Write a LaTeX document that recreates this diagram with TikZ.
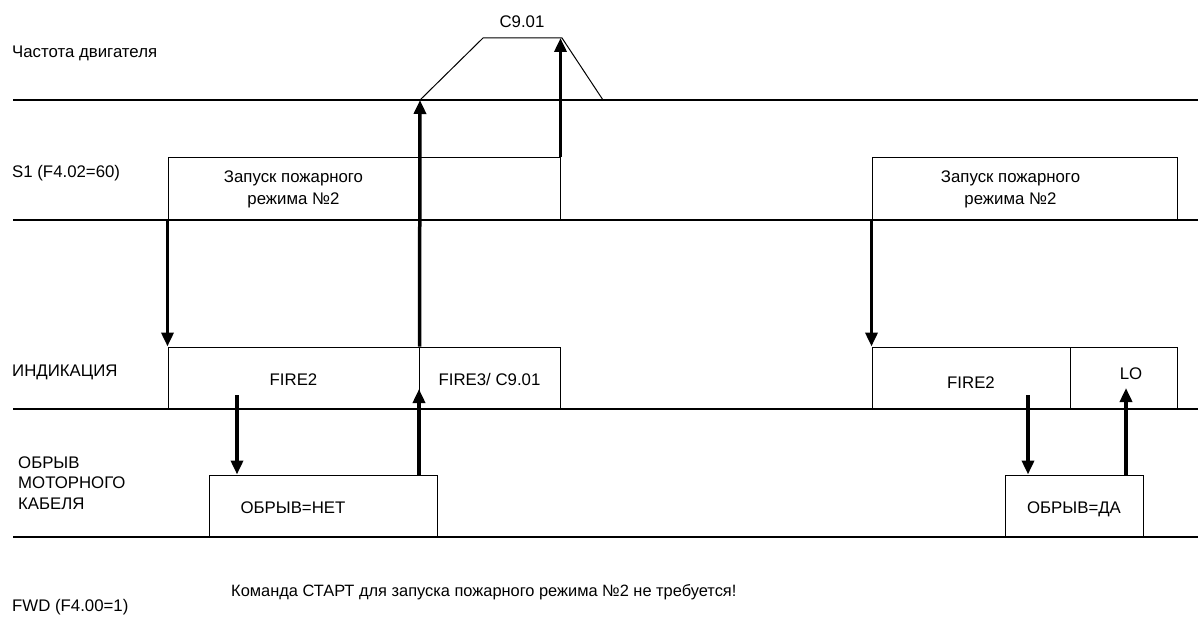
\documentclass[tikz,border=0pt]{standalone}
\usepackage{fontspec}
\setmainfont{Liberation Sans}
\usetikzlibrary{arrows.meta,calc}
\newcommand{\shiftedtext}[2]{\raisebox{#1}[0pt][0pt]{#2}}
\begin{document}
\begin{tikzpicture}[x=1pt,y=-1pt,
  every node/.style={font=\fontsize{16.8}{22}\selectfont},
  axis/.style={line width=1.3pt},
  box/.style={draw,line width=1pt,inner sep=0pt,align=center},
  lbl/.style={anchor=west,inner sep=0pt,align=left},
  arr/.style={line width=3.5pt,-{Triangle[length=14pt,width=12pt]}}]
\useasboundingbox (0,0) rectangle (1198,639);
% time axes
\draw[axis] (13,100) -- (1198,100);
\draw[axis] (13,220) -- (1198,220);
\draw[axis] (13,409) -- (1198,409);
\draw[axis] (13,537) -- (1198,537);
% row labels
\node[lbl] (lf) at (12,53) {Частота двигателя};
\node[lbl] (ls) at (12,173) {S1 (F4.02=60)};
\node[lbl] (li) at (12,372) {ИНДИКАЦИЯ};
\node[lbl,font=\fontsize{16.8}{20.5}\selectfont] (lo) at (18,483) {ОБРЫВ\\МОТОРНОГО\\КАБЕЛЯ};
\node[lbl] (lw) at (12,607) {FWD (F4.00=1)};
\node[lbl,font=\fontsize{16.4}{20}\selectfont] (note) at (231,592) {Команда СТАРТ для запуска пожарного режима №2 не требуется!};
% S1 boxes
\node[box,minimum width=251pt,minimum height=62pt] (s1a) at (293.5,189) {Запуск пожарного\\режима №2};
\node[box,minimum width=141pt,minimum height=62pt] (s1b) at (489.5,189) {};
\node[box,minimum width=305pt,minimum height=62pt] (s1c) at (1024.5,189) {Запуск пожарного\hspace*{28pt}\\режима №2\hspace*{28pt}};
% indication boxes
\node[box,minimum width=251pt,minimum height=62pt] (inda) at (293.5,378) {\shiftedtext{-7pt}{FIRE2}};
\node[box,minimum width=141pt,minimum height=62pt] (indb) at (489.5,378) {\shiftedtext{-7pt}{FIRE3/ C9.01}};
\node[box,minimum width=198pt,minimum height=62pt] (indc) at (971,378) {\shiftedtext{-10pt}{FIRE2}};
\node[box,minimum width=107pt,minimum height=62pt] (indd) at (1123.5,378) {\shiftedtext{-1pt}{\hspace*{15pt}LO}};
% cable break boxes
\node[box,minimum width=228pt,minimum height=62pt] (obr1) at (323,506) {\shiftedtext{-7pt}{ОБРЫВ=НЕТ\hspace*{60pt}}};
\node[box,minimum width=138pt,minimum height=62pt] (obr2) at (1074,506) {\shiftedtext{-7pt}{ОБРЫВ=ДА}};
% motor frequency profile
\coordinate (f0) at (420,100);
\coordinate (f1) at (483,38);
\coordinate (f2) at (562,38);
\coordinate (f3) at (603,100);
\draw[line width=1pt] (f0) -- (f1) -- (f2) -- (f3);
\node (c901) at (522,22) {C9.01};
% helper coordinates
\coordinate (a1) at (237,395);
\coordinate (a2) at (419,389);
\coordinate (a3) at (1028,395);
\coordinate (a4) at (1126,388);
% arrows
\draw[arr] (s1a.south west) -- (inda.north west);
\draw[arr] (inda.north east) -- (f0);
\draw[arr] (s1b.north east) -- (s1b.north east |- f2);
\draw[arr] (a1) -- (a1 |- obr1.north);
\draw[arr] (a2 |- obr1.north) -- (a2);
\draw[arr] (s1c.south west) -- (indc.north west);
\draw[arr] (a3) -- (a3 |- obr2.north);
\draw[arr] (a4 |- obr2.north) -- (a4);
\end{tikzpicture}
\end{document}
